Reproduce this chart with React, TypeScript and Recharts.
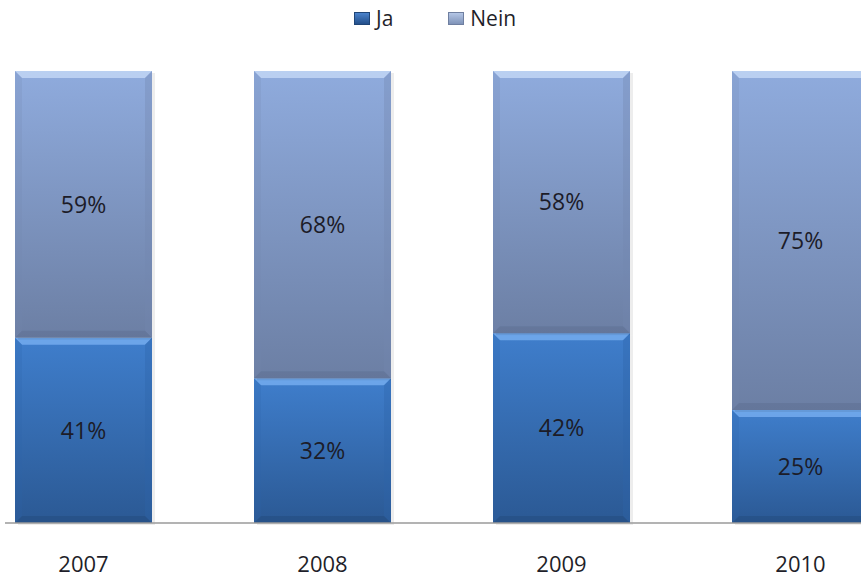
import { BarChart, Bar, XAxis, YAxis, Legend, LabelList } from 'recharts';

const years = ['2007', '2008', '2009', '2010'];
const jaValues = [41, 32, 42, 25];
const neinValues = [59, 68, 58, 75];

const data = years.map((year, i) => ({ year, ja: jaValues[i], nein: neinValues[i] }));

const FONT = '"Open Sans", "DejaVu Sans", sans-serif';

const tones = {
  ja: { grad: 'jaGrad', top: '#74abee', side: '#2f64a8', bottom: '#244c80', bottomOp: 0.55 },
  nein: { grad: 'neinGrad', top: '#c2d6f4', side: '#7488b0', bottom: '#56668a', bottomOp: 0.35 },
};

function BevelBar(props: any) {
  const { x, y, width, height, tone } = props;
  if (!width || !height) return null;
  const t = tones[tone as 'ja' | 'nein'];
  const b = Math.min(7, height / 4);
  return (
    <g>
      <rect x={x + 3} y={y + 2} width={width} height={height} fill="#000" opacity={0.07} />
      <rect x={x} y={y} width={width} height={height} fill={`url(#${t.grad})`} />
      <polygon
        points={`${x},${y} ${x + width},${y} ${x + width - b},${y + b} ${x + b},${y + b}`}
        fill={t.top}
        opacity={0.85}
      />
      <polygon
        points={`${x},${y} ${x + b},${y + b} ${x + b},${y + height - b} ${x},${y + height}`}
        fill={t.side}
        opacity={0.2}
      />
      <polygon
        points={`${x + width},${y} ${x + width - b},${y + b} ${x + width - b},${y + height - b} ${x + width},${y + height}`}
        fill={t.side}
        opacity={0.35}
      />
      <polygon
        points={`${x},${y + height} ${x + width},${y + height} ${x + width - b},${y + height - b} ${x + b},${y + height - b}`}
        fill={t.bottom}
        opacity={t.bottomOp}
      />
    </g>
  );
}

function renderLegend(props: any) {
  const { payload } = props;
  return (
    <div style={{ display: 'flex', alignItems: 'center', fontFamily: FONT, fontSize: 21, color: '#1f1f2a', lineHeight: '24px' }}>
      {payload.map((entry: any, i: number) => (
        <div key={`item-${i}`} style={{ display: 'flex', alignItems: 'center', marginRight: 55 }}>
          <span
            style={{
              display: 'inline-block',
              width: 16,
              height: 13,
              marginRight: 6,
              background:
                entry.dataKey === 'ja'
                  ? 'linear-gradient(#4b83cc, #234f8a)'
                  : 'linear-gradient(#b4c6e6, #7f93b8)',
              border: '1px solid ' + (entry.dataKey === 'ja' ? '#1f4577' : '#6f7fa0'),
              boxSizing: 'border-box',
            }}
          />
          <span>{entry.value}</span>
        </div>
      ))}
    </div>
  );
}

export default function App() {
  return (
    <div style={{ position: 'absolute', left: 0, top: 0, width: 861, height: 577, overflow: 'hidden', background: '#fff' }}>
      <div style={{ position: 'absolute', left: 5, top: 0 }}>
        <BarChart
          width={856}
          height={577}
          data={data}
          margin={{ top: 71, right: -59, bottom: 0, left: -41 }}
        >
          <defs>
            <linearGradient id="jaGrad" x1="0" y1="0" x2="0" y2="1">
              <stop offset="0%" stopColor="#3f7ecc" />
              <stop offset="100%" stopColor="#2b5994" />
            </linearGradient>
            <linearGradient id="neinGrad" x1="0" y1="0" x2="0" y2="1">
              <stop offset="0%" stopColor="#8fabdd" />
              <stop offset="100%" stopColor="#6c7fa4" />
            </linearGradient>
          </defs>
          <XAxis
            dataKey="year"
            height={54}
            tickLine={false}
            tickMargin={27}
            axisLine={{ stroke: '#9a9a9a', strokeWidth: 1.5 }}
            tick={{ fill: '#1f1f2a', fontSize: 22, fontFamily: FONT }}
          />
          <YAxis hide domain={[0, 100]} />
          <Legend
            verticalAlign="middle"
            align="center"
            wrapperStyle={{ top: 6, left: 349, width: 260 }}
            content={renderLegend}
          />
          <Bar
            dataKey="ja"
            name="Ja"
            stackId="a"
            barSize={137}
            fill="#3a74bf"
            shape={(p: any) => <BevelBar {...p} tone="ja" />}
            isAnimationActive={false}
          >
            <LabelList
              dataKey="ja"
              position="center"
              formatter={(v: any) => `${v}%`}
              style={{ fill: '#1c1c28', fontSize: 23, fontFamily: FONT }}
            />
          </Bar>
          <Bar
            dataKey="nein"
            name="Nein"
            stackId="a"
            barSize={137}
            fill="#8aa4d4"
            shape={(p: any) => <BevelBar {...p} tone="nein" />}
            isAnimationActive={false}
          >
            <LabelList
              dataKey="nein"
              position="center"
              formatter={(v: any) => `${v}%`}
              style={{ fill: '#1c1c28', fontSize: 23, fontFamily: FONT }}
            />
          </Bar>
        </BarChart>
      </div>
    </div>
  );
}
